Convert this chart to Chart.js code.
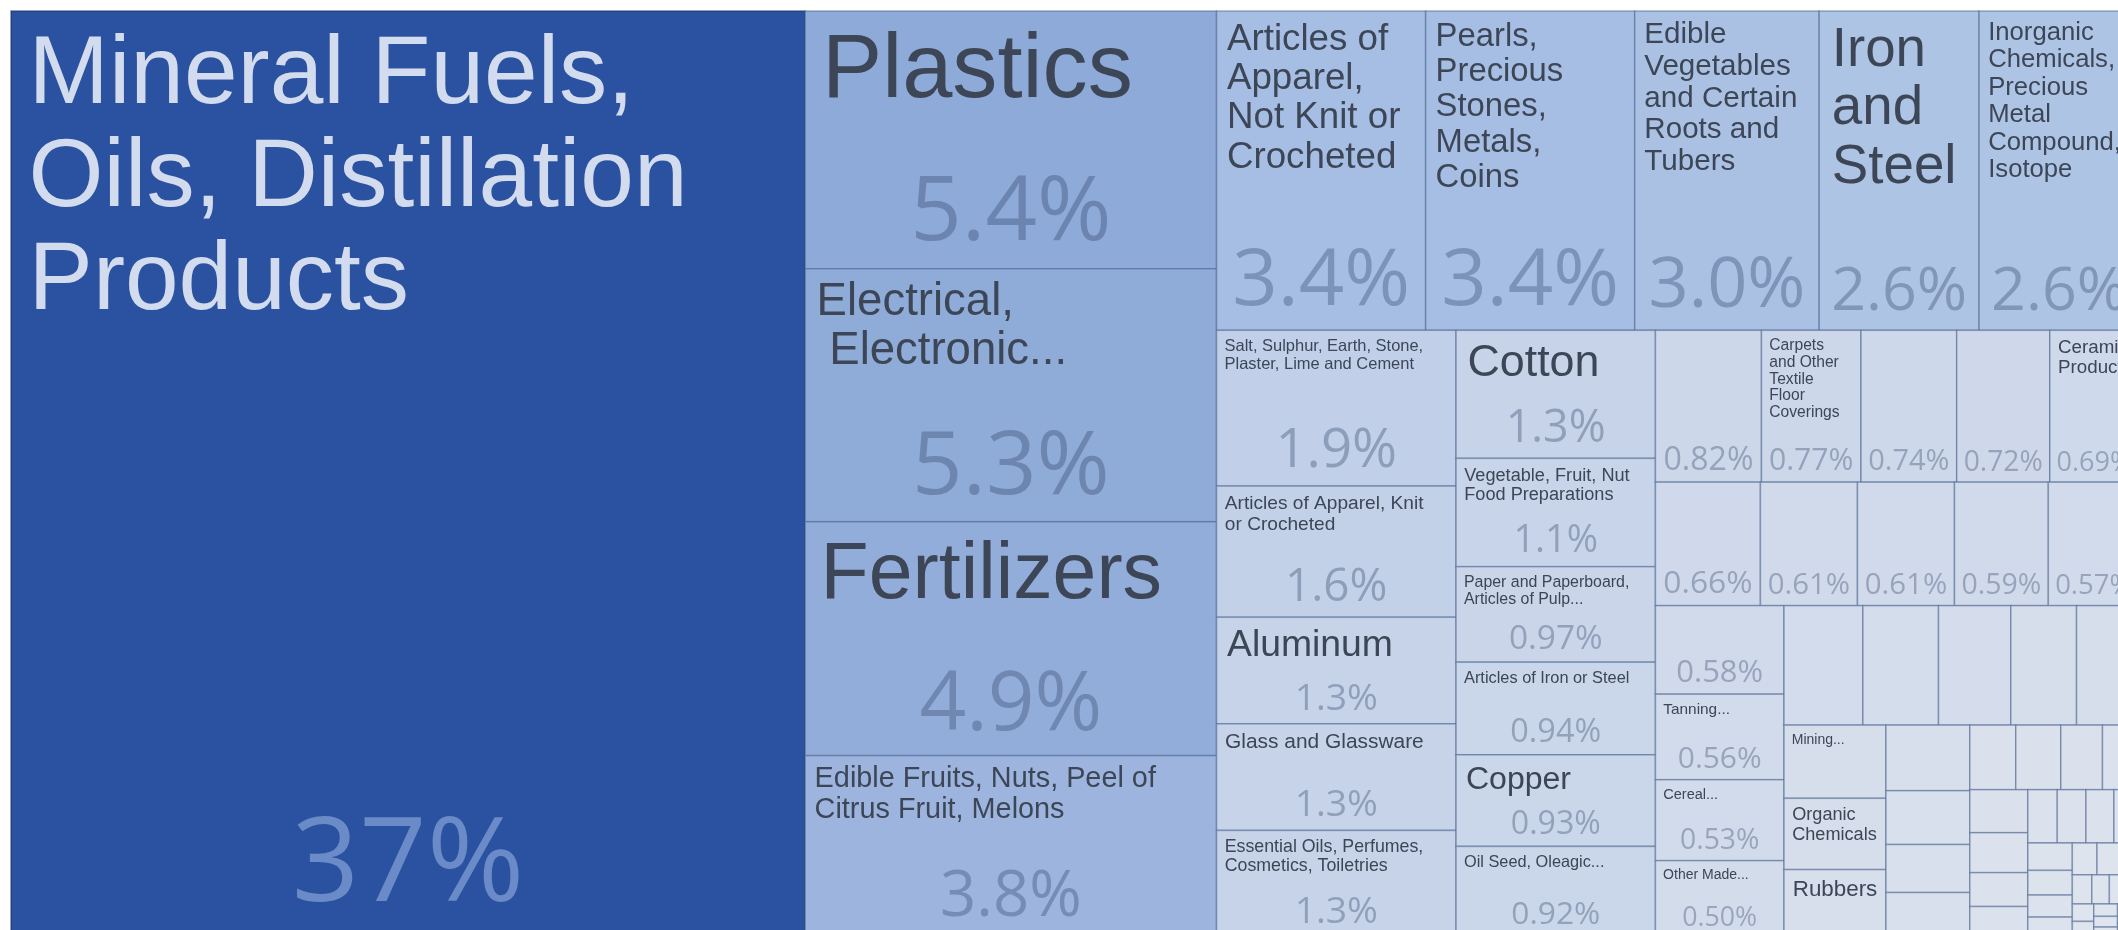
<!DOCTYPE html>
<html>
<head>
<meta charset="utf-8">
<title>Export treemap</title>
<script src="https://cdn.jsdelivr.net/npm/chart.js@4.4.1/dist/chart.umd.min.js"></script>
<style>
  html, body { margin: 0; padding: 0; background: #ffffff; overflow: hidden; }
  #wrap { width: 2150px; height: 937px; }
</style>
</head>
<body>
<div id="wrap"><canvas id="tree"></canvas></div>
<script>
// ---- data: product groups and their share of exports (%) ----
const categories = [
  'Mineral Fuels,\nOils, Distillation\nProducts',
  'Plastics',
  'Electrical,\n Electronic...',
  'Fertilizers',
  'Edible Fruits, Nuts, Peel of\nCitrus Fruit, Melons',
  'Articles of\nApparel,\nNot Knit or\nCrocheted',
  'Pearls,\nPrecious\nStones,\nMetals,\nCoins',
  'Edible\nVegetables\nand Certain\nRoots and\nTubers',
  'Iron\nand\nSteel',
  'Inorganic\nChemicals,\nPrecious\nMetal\nCompound,\nIsotope',
  'Salt, Sulphur, Earth, Stone,\nPlaster, Lime and Cement',
  'Articles of Apparel, Knit\nor Crocheted',
  'Aluminum',
  'Glass and Glassware',
  'Essential Oils, Perfumes,\nCosmetics, Toiletries',
  'Cotton',
  'Vegetable, Fruit, Nut\nFood Preparations',
  'Paper and Paperboard,\nArticles of Pulp...',
  'Articles of Iron or Steel',
  'Copper',
  'Oil Seed, Oleagic...',
  '',
  'Carpets\nand Other\nTextile\nFloor\nCoverings',
  '',
  '',
  'Ceramic\nProducts',
  '', '', '', '', '', '',
  'Tanning...',
  'Cereal...',
  'Other Made...',
  '', '', '', '', '',
  'Mining...',
  'Organic\nChemicals',
  'Rubbers',
  '', '', '', '',
  '', '', '', '',
  '', '', '', '',
  '', '', '', '', '', '', '', '', '', '', '', '',
  '', '', '', '', '', '', '', '', '', '', '', ''
];

const shares = [
  37.45,
  5.4, 5.3, 4.9, 3.8,
  3.4, 3.4, 3.0, 2.6, 2.6,
  1.9, 1.6, 1.3, 1.3, 1.3,
  1.3, 1.1, 0.97, 0.94, 0.93, 0.92,
  0.82, 0.77, 0.74, 0.72, 0.69,
  0.66, 0.61, 0.61, 0.59, 0.57,
  0.58, 0.56, 0.53, 0.50,
  0.48, 0.46, 0.44, 0.40, 0.38,
  0.38, 0.37, 0.35,
  0.28, 0.23, 0.205, 0.19,
  0.151, 0.148, 0.137, 0.12,
  0.127, 0.118, 0.10, 0.09,
  0.08, 0.078, 0.076, 0.068, 0.062, 0.056, 0.05, 0.045, 0.04, 0.036, 0.032, 0.029,
  0.026, 0.023, 0.021, 0.019, 0.017, 0.015, 0.013, 0.012, 0.011, 0.01, 0.009, 0.006
];

// colour ramp (share % -> fill), interpolated on a log scale
const colorStops = [
  [0.02, '#DFE5EE'], [0.15, '#DAE1ED'], [0.4, '#D6DEEC'], [0.6, '#D0DAEB'],
  [0.8, '#CCD7EA'], [1.3, '#C6D3E9'], [1.9, '#C1D0E8'], [2.6, '#AEC4E5'],
  [3.4, '#A6BEE3'], [3.8, '#9DB5DE'], [5.4, '#8EAAD8'], [37, '#2A52A0']
];

const TITLE_FONT = '"Liberation Sans", Arial, sans-serif';
const SHARE_FONT = '"Open Sans", "Liberation Sans", sans-serif';
const PHI = (1 + Math.sqrt(5)) / 2;
const ROW_BIAS = 1.09;
const LINE_H = 1.07;

function hexToRgb(h) {
  const n = parseInt(h.slice(1), 16);
  return [(n >> 16) & 255, (n >> 8) & 255, n & 255];
}

function shareColor(p) {
  const lp = Math.log(p);
  if (p <= colorStops[0][0]) return colorStops[0][1];
  for (let i = 1; i < colorStops.length; i++) {
    if (p <= colorStops[i][0]) {
      const a = Math.log(colorStops[i - 1][0]), b = Math.log(colorStops[i][0]);
      const t = (lp - a) / (b - a);
      const c0 = hexToRgb(colorStops[i - 1][1]), c1 = hexToRgb(colorStops[i][1]);
      const c = c0.map((v, k) => Math.round(v + (c1[k] - v) * t));
      return `rgb(${c[0]},${c[1]},${c[2]})`;
    }
  }
  return colorStops[colorStops.length - 1][1];
}

function fmtShare(p) {
  return (p >= 10 ? Math.round(p).toString() : p.toPrecision(2)) + '%';
}

// squarified layout (d3 style), rows laid along the shorter side
function squarify(values, x0, y0, x1, y1) {
  const out = new Array(values.length);
  let value = values.reduce((a, b) => a + b, 0);
  let i0 = 0, i1 = 0;
  const n = values.length;
  while (i0 < n) {
    const dx = x1 - x0, dy = y1 - y0;
    let sum = values[i1++];
    let minV = sum, maxV = sum;
    const alpha = Math.max(dy / dx, dx / dy) / (value * PHI);
    let beta = sum * sum * alpha;
    let minRatio = Math.max(maxV / beta, beta / minV);
    for (; i1 < n; ++i1) {
      const v = values[i1];
      sum += v;
      if (v < minV) minV = v;
      if (v > maxV) maxV = v;
      beta = sum * sum * alpha;
      const r = Math.max(maxV / beta, beta / minV);
      if (r > minRatio) { sum -= v; break; }
      minRatio = r;
    }
    if (dx < dy * ROW_BIAS) {
      const h = i1 >= n ? dy : dy * sum / value;
      let x = x0;
      for (let i = i0; i < i1; i++) {
        const w = dx * values[i] / sum;
        out[i] = { x0: x, y0: y0, x1: x + w, y1: y0 + h };
        x += w;
      }
      y0 += h;
    } else {
      const w = i1 >= n ? dx : dx * sum / value;
      let y = y0;
      for (let i = i0; i < i1; i++) {
        const h = dy * values[i] / sum;
        out[i] = { x0: x0, y0: y, x1: x0 + w, y1: y + h };
        y += h;
      }
      x0 += w;
    }
    value -= sum;
    i0 = i1;
  }
  return out;
}

function titleSize(ctx, lines, w, h, truncated) {
  ctx.font = `100px ${TITLE_FONT}`;
  const widest = Math.max(...lines.map(l => ctx.measureText(l).width)) / 100;
  let size = Math.min((w * 0.83) / widest, (h * 0.55) / (lines.length * LINE_H), h * 0.35, 100);
  // names that were cut short keep a modest size
  if (truncated) size = Math.min(size, Math.max(14, Math.min(w, h) * 0.18));
  return size;
}

const treemapPlugin = {
  id: 'treemapCells',
  afterDatasetsDraw(chart) {
    const { ctx, chartArea, scales } = chart;
    const xs = scales.x, ys = scales.y;
    const W = chartArea.right - chartArea.left;
    const H = chartArea.bottom - chartArea.top;
    const total = shares.reduce((a, b) => a + b, 0);
    const cells = squarify(shares, 0, 0, W, H);

    ctx.save();
    cells.forEach((c, i) => {
      const left = xs.getPixelForValue(c.x0 / W);
      const right = xs.getPixelForValue(c.x1 / W);
      const top = ys.getPixelForValue(c.y0 / H);
      const bottom = ys.getPixelForValue(c.y1 / H);
      const w = right - left, h = bottom - top;
      const pct = shares[i] / total * 100;
      const dark = pct > 10;

      ctx.fillStyle = shareColor(pct);
      ctx.fillRect(left, top, w, h);
      ctx.strokeStyle = dark ? 'rgba(30,50,100,0.6)' : 'rgba(70,95,140,0.5)';
      ctx.lineWidth = 1.5;
      ctx.strokeRect(left, top, w, h);

      ctx.save();
      ctx.beginPath();
      ctx.rect(left, top, w, h);
      ctx.clip();

      const label = categories[i];
      if (label) {
        const lines = label.split('\n');
        const size = titleSize(ctx, lines, w, h, label.endsWith('...'));
        if (size >= 7) {
          ctx.font = `${size}px ${TITLE_FONT}`;
          ctx.fillStyle = dark ? '#D3DBEE' : '#3D4656';
          ctx.textAlign = 'left';
          ctx.textBaseline = 'alphabetic';
          const tx = left + 6 + size * 0.12;
          let ty = top + 6 + size * 0.89;
          lines.forEach(line => {
            ctx.fillText(line, tx, ty);
            ty += size * LINE_H;
          });
        }
      }

      if (pct >= 0.495) {
        const txt = fmtShare(pct);
        ctx.font = `100px ${SHARE_FONT}`;
        const unit = ctx.measureText(txt).width / 100;
        const size = Math.min((w * 0.85) / unit, h * 0.35, 118);
        ctx.font = `${size}px ${SHARE_FONT}`;
        ctx.fillStyle = dark ? 'rgba(170,195,240,0.5)' : 'rgba(50,68,105,0.36)';
        ctx.textAlign = 'center';
        ctx.textBaseline = 'alphabetic';
        ctx.fillText(txt, (left + right) / 2, bottom - size * 0.27 - 4);
      }
      ctx.restore();
    });
    ctx.restore();
  }
};

new Chart(document.getElementById('tree').getContext('2d'), {
  type: 'scatter',
  data: { datasets: [{ data: [] }] },
  options: {
    responsive: true,
    maintainAspectRatio: false,
    animation: false,
    layout: { padding: { left: 11, top: 11, right: 11, bottom: 0 } },
    plugins: {
      legend: { display: false },
      tooltip: { enabled: false }
    },
    scales: {
      x: { type: 'linear', min: 0, max: 1, display: false },
      y: { type: 'linear', min: 0, max: 1, reverse: true, display: false }
    }
  },
  plugins: [treemapPlugin]
});
</script>
</body>
</html>
